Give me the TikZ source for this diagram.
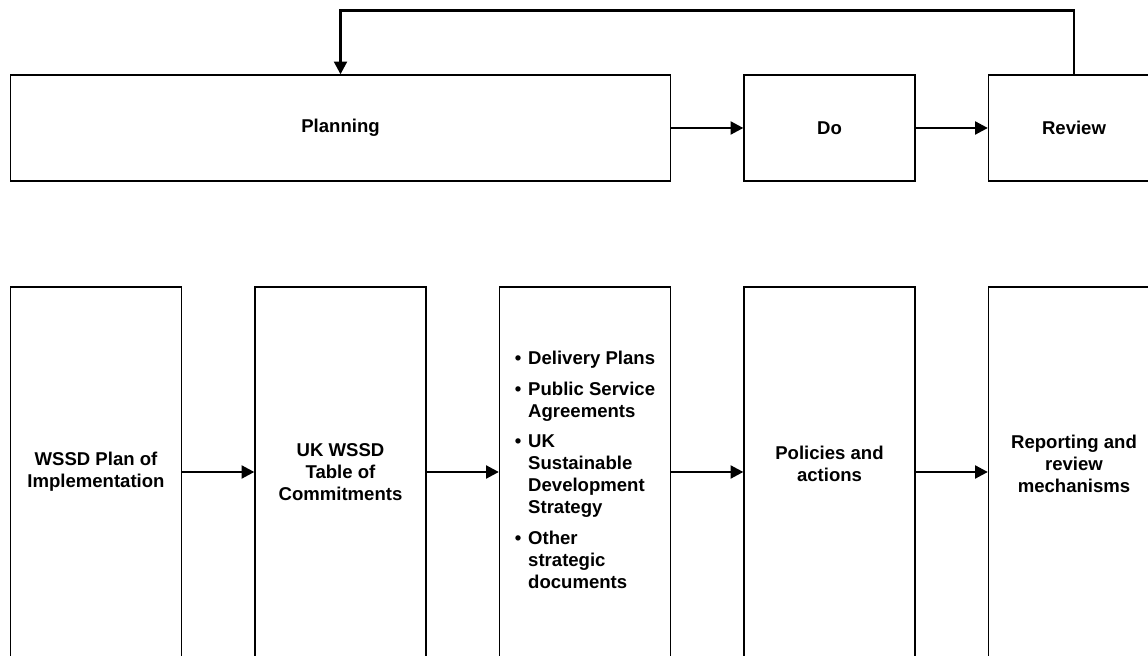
\documentclass[tikz,border=0pt]{standalone}
\usepackage{fontspec}
\setmainfont{Liberation Sans}
\usepackage{tikz}
\usetikzlibrary{arrows.meta,positioning}
\tikzset{
  phasebox/.style={draw=black,line width=0.9pt,fill=white,align=center,inner sep=0pt,
    minimum height=2.65cm,minimum width=4.275cm,font=\bfseries\fontsize{13.2}{15.6}\selectfont},
  docbox/.style={draw=black,line width=0.9pt,fill=white,align=center,inner sep=0pt,
    minimum height=9.25cm,minimum width=4.275cm,font=\bfseries\fontsize{13.2}{15.6}\selectfont},
  flowarrow/.style={-{Triangle[length=0.32cm,width=0.32cm]},line width=1.9pt}
}

\begin{document}
\begin{tikzpicture}[x=1cm,y=1cm]
  \useasboundingbox (0,0) rectangle (28.7,16.4);

  % top row: planning cycle
  \node[phasebox,minimum width=16.5cm] (planning) at (8.5125,13.2) {Planning};
  \node[phasebox] (do) at (20.7375,13.2) {Do};
  \node[phasebox] (review) at (26.85,13.2) {Review};
  \draw[flowarrow] (planning.east) -- (do.west);
  \draw[flowarrow] (do.east) -- (review.west);
  \draw[flowarrow] (review.north) -- ++(0,1.6) -| (planning.north);

  % bottom row: documents and mechanisms
  \node[docbox] (wssd) at (2.4,4.6) {WSSD Plan of\\Implementation};
  \node[docbox] (table) at (8.5125,4.6) {UK WSSD\\Table of\\Commitments};
  \node[docbox] (docs) at (14.625,4.6) {%
    \begin{tabular}{@{}l@{\hspace{0.17cm}}l@{}}
      \textbullet & Delivery Plans\\[0.225cm]
      \textbullet & Public Service\\
                  & Agreements\\[0.225cm]
      \textbullet & UK\\
                  & Sustainable\\
                  & Development\\
                  & Strategy\\[0.225cm]
      \textbullet & Other\\
                  & strategic\\
                  & documents
    \end{tabular}};
  \node[docbox] (policies) at (20.7375,4.6) {Policies and\\actions\\[-0.15cm]};
  \node[docbox] (reporting) at (26.85,4.6) {Reporting and\\review\\mechanisms\\[-0.15cm]};
  \foreach \a/\b in {wssd/table,table/docs,docs/policies,policies/reporting}
    \draw[flowarrow] (\a.east) -- (\b.west);
\end{tikzpicture}
\end{document}
